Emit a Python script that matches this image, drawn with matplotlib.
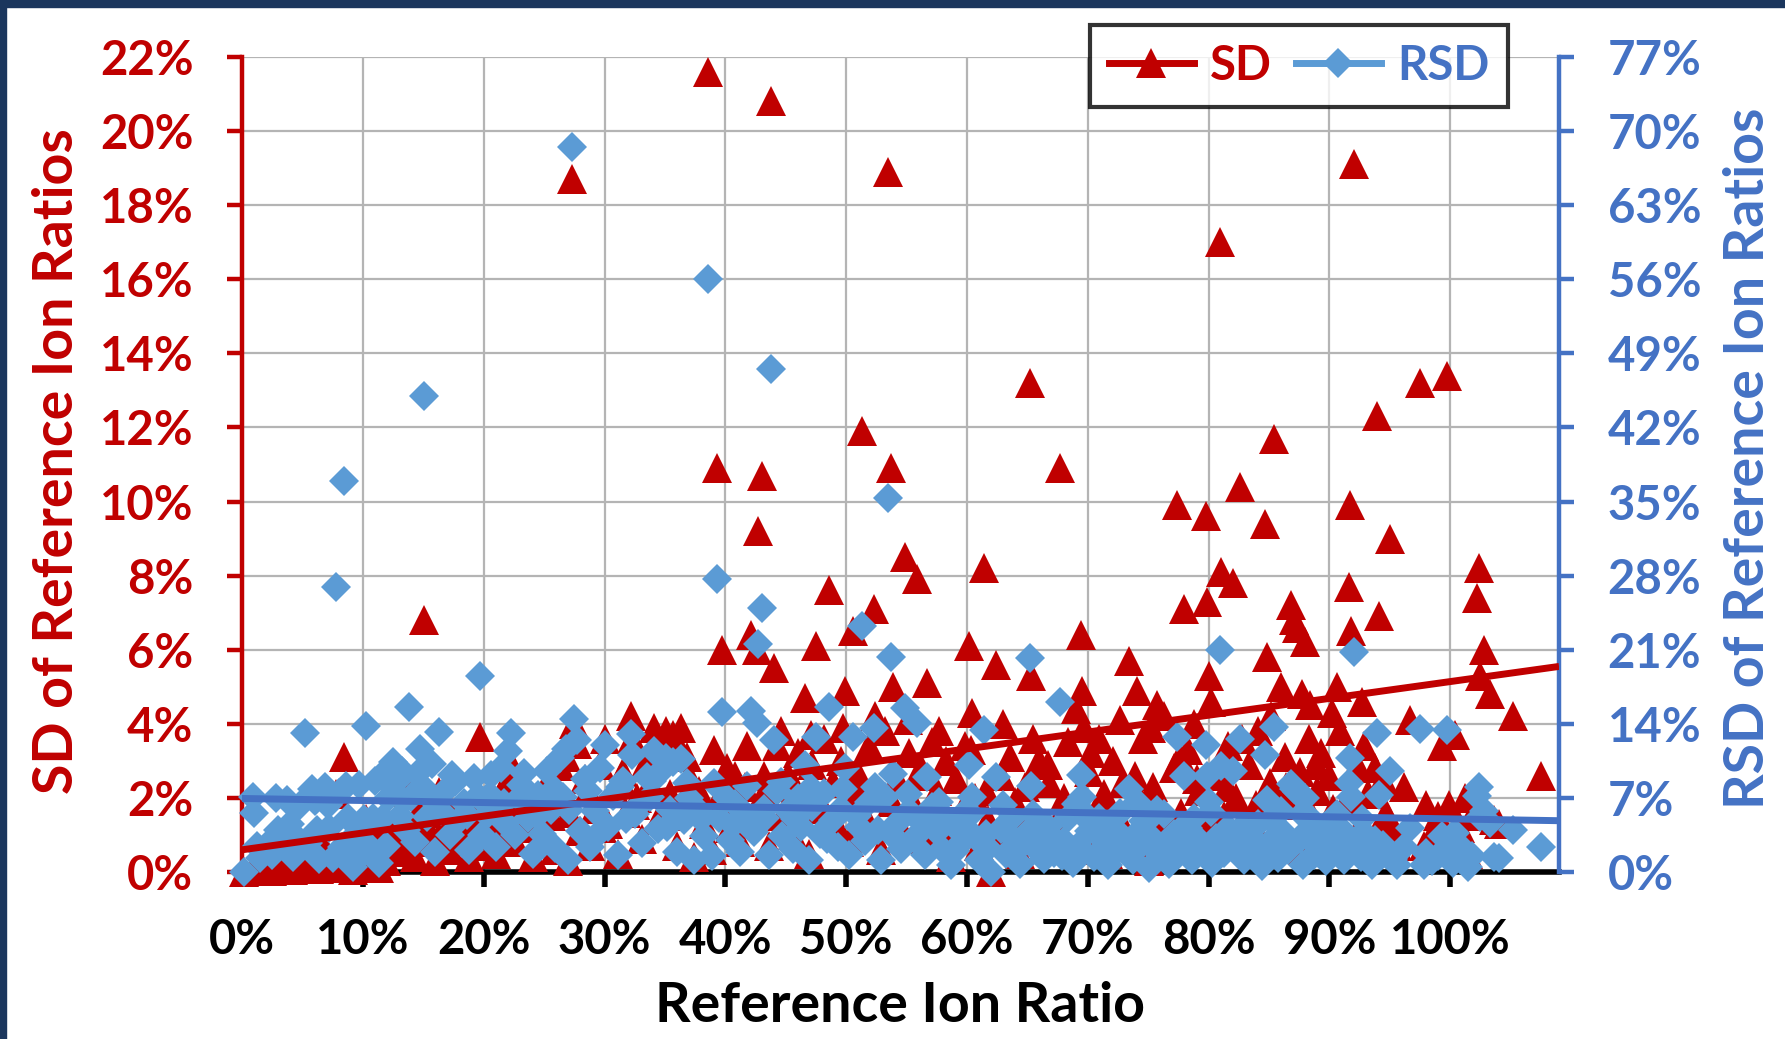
import matplotlib
matplotlib.use("Agg")
import matplotlib.pyplot as plt
from matplotlib.ticker import FuncFormatter, MultipleLocator
from matplotlib.patches import Rectangle
from matplotlib.lines import Line2D

# reference ion ratio (fraction), SD (%), RSD (%) per sample
ion_ratio = [
    0.002, 0.009, 0.010, 0.015, 0.020, 0.025, 0.030, 0.035, 0.040, 0.042, 0.048, 0.052,
    0.055, 0.060, 0.062, 0.066, 0.069, 0.072, 0.075, 0.078, 0.080, 0.083, 0.084, 0.088,
    0.092, 0.095, 0.098,
    0.101, 0.103, 0.106, 0.110, 0.113, 0.117, 0.121, 0.125, 0.128, 0.131, 0.134, 0.138,
    0.140, 0.143, 0.147, 0.149,
    0.151, 0.153, 0.157, 0.160, 0.163, 0.168, 0.172, 0.176, 0.180, 0.184, 0.188, 0.192,
    0.197, 0.199,
    0.203, 0.206, 0.210, 0.214, 0.217, 0.220, 0.223, 0.226, 0.229, 0.233, 0.237, 0.241,
    0.245, 0.248,
    0.252, 0.256, 0.259, 0.263, 0.266, 0.268, 0.270, 0.273, 0.275, 0.277, 0.280, 0.284,
    0.288, 0.292, 0.296, 0.300,
    0.303, 0.307, 0.311, 0.315, 0.318, 0.322, 0.323, 0.327, 0.331, 0.335, 0.338, 0.341,
    0.344, 0.347,
    0.351, 0.354, 0.357, 0.360, 0.363, 0.366, 0.370, 0.374, 0.378, 0.382, 0.386, 0.389,
    0.393, 0.395, 0.397,
    0.401, 0.404, 0.408, 0.412, 0.416, 0.421, 0.424, 0.426, 0.427, 0.430, 0.433, 0.436,
    0.438, 0.440, 0.443, 0.447,
    0.452, 0.456, 0.460, 0.463, 0.466, 0.469, 0.472, 0.475, 0.478, 0.482, 0.486, 0.489,
    0.493, 0.496, 0.499,
    0.502, 0.506, 0.509, 0.513, 0.516, 0.519, 0.523, 0.526, 0.529, 0.532, 0.535, 0.537,
    0.539, 0.542, 0.545, 0.549,
    0.552, 0.556, 0.559, 0.562, 0.565, 0.567, 0.571, 0.575, 0.579, 0.583, 0.587, 0.591,
    0.595, 0.598,
    0.602, 0.604, 0.607, 0.610, 0.614, 0.617, 0.620, 0.624, 0.628, 0.632, 0.636, 0.640,
    0.644, 0.648,
    0.652, 0.653, 0.656, 0.660, 0.664, 0.668, 0.672, 0.677, 0.680, 0.684, 0.688, 0.692,
    0.694, 0.695, 0.697,
    0.701, 0.705, 0.709, 0.713, 0.717, 0.721, 0.725, 0.729, 0.734, 0.737, 0.741, 0.744,
    0.746,
    0.751, 0.754, 0.757, 0.760, 0.763, 0.767, 0.771, 0.774, 0.777, 0.780, 0.783, 0.786,
    0.788, 0.792, 0.795, 0.798, 0.799,
    0.800, 0.803, 0.806, 0.809, 0.810, 0.813, 0.816, 0.820, 0.823, 0.826, 0.829, 0.833,
    0.837, 0.841, 0.844, 0.847, 0.848,
    0.851, 0.854, 0.857, 0.860, 0.863, 0.866, 0.868, 0.871, 0.873, 0.876, 0.878, 0.880,
    0.883, 0.884, 0.887, 0.890, 0.893, 0.897,
    0.900, 0.903, 0.906, 0.909, 0.912, 0.916, 0.917, 0.918, 0.920, 0.923, 0.926, 0.929,
    0.932, 0.935, 0.939, 0.941, 0.944, 0.947, 0.950,
    0.953, 0.956, 0.967, 0.975, 0.980, 0.985, 0.993, 0.997, 0.999,
    1.004, 1.008, 1.012, 1.018, 1.022, 1.024, 1.025, 1.028, 1.033, 1.036, 1.052, 1.075,
    # crowded lower band
    0.012, 0.028, 0.037, 0.045, 0.058, 0.064, 0.071, 0.086, 0.090, 0.097, 0.108, 0.115,
    0.119, 0.123, 0.132, 0.136, 0.145, 0.155, 0.165, 0.174, 0.186, 0.195,
    0.205, 0.218, 0.231, 0.244, 0.258, 0.271, 0.286, 0.298, 0.313, 0.325, 0.339, 0.352,
    0.368, 0.380, 0.391, 0.406, 0.418, 0.432, 0.446, 0.458, 0.471, 0.484, 0.497, 0.511,
    0.524, 0.538, 0.551, 0.563, 0.577, 0.590, 0.603, 0.616, 0.630, 0.642, 0.655, 0.667,
    0.679, 0.690, 0.703, 0.715, 0.727, 0.739, 0.752, 0.765, 0.776, 0.790, 0.802, 0.815,
    0.828, 0.839, 0.852, 0.864, 0.877, 0.889, 0.902, 0.914, 0.927, 0.938, 0.949, 0.962,
    0.978, 0.990, 1.002, 1.015, 1.040,
]

sd_pct = [
    0.00, 0.064, 0.056, 0.02, 0.05, 0.04, 0.12, 0.10, 0.18, 0.06, 0.30, 0.68,
    0.15, 0.40, 0.25, 0.50, 0.55, 0.30, 0.10, 2.10, 0.60, 0.20, 3.10, 0.45,
    0.05, 0.35, 0.15,
    0.50, 1.42, 0.25, 0.95, 0.10, 0.60, 0.85, 1.30, 1.10, 0.70, 0.90, 2.15,
    1.00, 0.40, 1.70, 1.20,
    6.80, 0.80, 1.60, 0.30, 2.15, 1.30, 0.60, 1.50, 0.90, 1.20, 0.40, 1.70,
    3.65, 0.70,
    1.10, 1.90, 0.50, 2.10, 1.40, 2.50, 2.92, 0.80, 1.60, 2.20, 1.20, 0.40,
    1.80, 0.90,
    2.40, 1.50, 0.60, 2.85, 1.90, 3.10, 0.30, 18.7, 4.00, 3.45, 1.10, 2.50,
    0.70, 1.70, 2.90, 3.60,
    1.30, 2.20, 0.50, 2.70, 1.60, 4.20, 3.60, 2.00, 0.90, 3.00, 2.40, 3.90,
    1.40, 3.30,
    3.80, 2.10, 3.70, 0.70, 3.90, 1.80, 2.60, 0.40, 2.20, 1.30, 21.6, 0.60,
    10.9, 2.00, 6.00,
    2.80, 1.20, 2.60, 0.80, 2.30, 6.40, 1.60, 6.00, 9.20, 10.7, 2.20, 0.70,
    20.8, 5.50, 3.40, 1.50,
    2.60, 1.00, 3.20, 2.00, 4.70, 0.50, 2.90, 6.10, 1.70, 3.60, 7.60, 2.40,
    1.20, 3.00, 4.90,
    0.80, 6.50, 2.70, 11.9, 1.50, 3.40, 7.10, 2.10, 0.60, 3.80, 18.9, 10.9,
    5.00, 2.50, 1.20, 8.50,
    3.20, 1.80, 7.90, 2.80, 0.90, 5.10, 3.50, 2.20, 1.30, 3.00, 0.40, 2.50,
    1.60, 3.40,
    6.10, 4.30, 2.00, 0.70, 8.20, 1.40, 0.00, 5.60, 2.60, 1.10, 3.10, 1.90,
    0.50, 2.30,
    13.2, 5.30, 1.50, 3.00, 0.80, 2.40, 1.20, 10.9, 2.00, 3.50, 0.60, 1.70,
    6.40, 4.90, 3.90,
    2.70, 1.00, 3.60, 2.10, 0.50, 3.00, 1.50, 2.40, 5.70, 0.80, 4.90, 1.90,
    3.60,
    0.30, 2.30, 4.50, 1.20, 4.20, 0.60, 2.80, 9.90, 1.60, 7.10, 3.30, 0.90,
    4.00, 2.20, 1.40, 9.60, 7.30,
    5.30, 0.70, 2.60, 17.0, 8.10, 1.50, 3.40, 7.80, 2.00, 10.4, 0.90, 2.90,
    1.30, 3.80, 0.50, 9.40, 5.80,
    2.40, 11.7, 1.10, 5.00, 3.10, 1.80, 7.20, 6.80, 6.60, 2.70, 0.60, 6.20,
    3.60, 4.50, 1.40, 2.20, 3.20, 0.90,
    2.60, 1.70, 5.00, 3.80, 1.00, 7.70, 9.90, 6.50, 19.1, 2.90, 1.30, 3.40,
    2.10, 0.70, 12.3, 6.90, 2.50, 1.60, 9.00,
    1.10, 0.70, 4.10, 13.2, 1.80, 1.00, 3.40, 13.4, 1.80,
    3.70, 1.20, 2.00, 1.50, 7.40, 8.20, 5.30, 6.00, 4.80, 1.40, 4.20, 2.60,
    # crowded lower band
    0.03, 0.20, 0.25, 0.15, 0.45, 0.08, 0.45, 0.70, 0.25, 0.80, 0.55, 1.05,
    0.30, 1.15, 1.25, 0.55, 1.35, 1.10, 0.95, 1.60, 1.00, 1.40,
    1.50, 1.00, 1.90, 1.30, 2.00, 1.60, 2.20, 1.20, 2.50, 1.80, 2.90, 1.50,
    3.10, 1.90, 3.30, 1.80, 3.40, 2.60, 3.80, 2.30, 3.70, 1.50, 3.90, 2.20,
    4.20, 1.90, 4.10, 2.60, 3.80, 1.20, 3.30, 2.20, 4.00, 1.40, 3.60, 2.90,
    1.00, 4.40, 3.20, 1.70, 4.10, 2.60, 3.90, 1.50, 3.10, 2.50, 4.60, 2.30,
    3.60, 1.80, 4.20, 2.30, 4.80, 2.90, 4.30, 1.90, 4.60, 2.80, 1.40, 2.30,
    0.70, 1.50, 0.90, 0.50, 1.30,
]

rsd_pct = [
    0.0, 7.1, 5.6, 1.3, 2.5, 1.6, 4.0, 2.9, 4.5, 1.4, 6.3, 13.1,
    2.7, 6.7, 4.0, 7.6, 8.0, 4.2, 1.3, 26.9, 7.5, 2.4, 36.9, 5.1,
    0.5, 3.7, 1.5,
    5.0, 13.8, 2.4, 8.6, 0.9, 5.1, 7.0, 10.4, 8.6, 5.3, 6.7, 15.6,
    7.1, 2.8, 11.6, 8.1,
    45.0, 5.2, 10.2, 1.9, 13.2, 7.7, 3.5, 8.5, 5.0, 6.5, 2.1, 8.9,
    18.5, 3.5,
    5.4, 9.2, 2.4, 9.8, 6.5, 11.4, 13.1, 3.5, 7.0, 9.4, 5.1, 1.7,
    7.3, 3.6,
    9.5, 5.9, 2.3, 10.8, 7.1, 11.6, 1.1, 68.5, 14.5, 12.5, 3.9, 8.8,
    2.4, 5.8, 9.8, 12.0,
    4.3, 7.2, 1.6, 8.6, 5.0, 13.0, 11.1, 6.1, 2.7, 9.0, 7.1, 11.4,
    4.1, 9.5,
    10.8, 5.9, 10.4, 1.9, 10.7, 4.9, 7.0, 1.1, 5.8, 3.4, 56.0, 1.5,
    27.7, 5.1, 15.1,
    7.0, 3.0, 6.4, 1.9, 5.5, 15.2, 3.8, 14.1, 21.5, 24.9, 5.1, 1.6,
    47.5, 12.5, 7.7, 3.4,
    5.8, 2.2, 7.0, 4.3, 10.1, 1.1, 6.1, 12.8, 3.6, 7.5, 15.6, 4.9,
    2.4, 6.0, 9.8,
    1.6, 12.8, 5.3, 23.2, 2.9, 6.6, 13.6, 4.0, 1.1, 7.1, 35.3, 20.3,
    9.3, 4.6, 2.2, 15.5,
    5.8, 3.2, 14.1, 5.0, 1.6, 9.0, 6.1, 3.8, 2.2, 5.1, 0.7, 4.2,
    2.7, 5.7,
    10.1, 7.1, 3.3, 1.1, 13.4, 2.3, 0.0, 9.0, 4.1, 1.7, 4.9, 3.0,
    0.8, 3.5,
    20.2, 8.1, 2.3, 4.5, 1.2, 3.6, 1.8, 16.1, 2.9, 5.1, 0.9, 2.5,
    9.2, 7.1, 5.6,
    3.9, 1.4, 5.1, 2.9, 0.7, 4.2, 2.1, 3.3, 7.8, 1.1, 6.6, 2.6,
    4.8,
    0.4, 3.1, 5.9, 1.6, 5.5, 0.8, 3.6, 12.8, 2.1, 9.1, 4.2, 1.1,
    5.1, 2.8, 1.8, 12.0, 9.1,
    6.6, 0.9, 3.2, 21.0, 10.0, 1.8, 4.2, 9.5, 2.4, 12.6, 1.1, 3.5,
    1.6, 4.5, 0.6, 11.1, 6.8,
    2.8, 13.7, 1.3, 5.8, 3.6, 2.1, 8.3, 7.8, 7.6, 3.1, 0.7, 7.0,
    4.1, 5.1, 1.6, 2.5, 3.6, 1.0,
    2.9, 1.9, 5.5, 4.2, 1.1, 8.4, 10.8, 7.1, 20.8, 3.1, 1.4, 3.7,
    2.3, 0.7, 13.1, 7.3, 2.6, 1.7, 9.5,
    1.2, 0.7, 4.2, 13.5, 1.8, 1.0, 3.4, 13.4, 1.8,
    3.7, 1.2, 2.0, 1.5, 7.2, 8.0, 5.2, 5.8, 4.6, 1.4, 4.0, 2.4,
    # crowded lower band
    2.5, 7.0, 6.8, 3.3, 7.8, 1.2, 6.3, 8.1, 2.8, 8.2, 5.1, 9.1,
    2.5, 9.3, 9.5, 4.0, 9.3, 7.1, 5.8, 9.2, 5.4, 7.2,
    7.3, 4.6, 8.2, 5.3, 7.8, 5.9, 7.7, 4.0, 8.0, 5.5, 8.6, 4.3,
    8.4, 5.0, 8.4, 4.4, 8.1, 6.0, 8.5, 5.0, 7.9, 3.1, 7.8, 4.3,
    8.0, 3.5, 7.4, 4.6, 6.6, 2.0, 5.5, 3.6, 6.3, 2.2, 5.5, 4.3,
    1.5, 6.4, 4.6, 2.4, 5.6, 3.5, 5.2, 2.0, 4.0, 3.2, 5.7, 2.8,
    4.3, 2.1, 4.9, 2.7, 5.5, 3.3, 4.8, 2.1, 5.0, 3.0, 1.5, 2.4,
    0.7, 1.5, 0.9, 0.5, 1.3,
]

# linear trend lines as shown in the chart (end points)
trend_x = [0.0, 1.09]
sd_trend = [0.60, 5.55]
rsd_trend = [6.95, 4.85]

RED = "#C00000"
BLUE_MK = "#5B9BD5"
BLUE = "#4472C4"
FONT = "Lato"

fig = plt.figure(figsize=(17.85, 10.39), dpi=100)
ax = fig.add_axes([0.1356, 0.1607, 0.7378, 0.7844])
ax2 = ax.twinx()

ax.set_xlim(0, 1.09)
ax.set_ylim(0, 22)
ax2.set_ylim(0, 77)

ax.grid(True, color="#B4B4B4", linewidth=1.6, zorder=0)
ax.set_axisbelow(True)
ax.xaxis.set_major_locator(MultipleLocator(0.1))
ax.yaxis.set_major_locator(MultipleLocator(2))
ax2.yaxis.set_major_locator(MultipleLocator(7))

ax.plot(ion_ratio, sd_pct, linestyle="none", marker="^", markersize=21.5,
        color=RED, markeredgewidth=0, clip_on=False, zorder=3)
ax2.plot(ion_ratio, rsd_pct, linestyle="none", marker="D", markersize=15.5,
         color=BLUE_MK, markeredgewidth=0, clip_on=False, zorder=3)

# trend lines on top of both marker sets
ax2.plot(trend_x, sd_trend, color=RED, linewidth=5, transform=ax.transData,
         zorder=5, solid_capstyle="butt")
ax2.plot(trend_x, rsd_trend, color=BLUE, linewidth=5, zorder=6,
         solid_capstyle="round")

pct = FuncFormatter(lambda v, _: f"{v:.0f}%")
ax.xaxis.set_major_formatter(FuncFormatter(lambda v, _: f"{v * 100:.0f}%"))
ax.yaxis.set_major_formatter(pct)
ax2.yaxis.set_major_formatter(pct)

for s in ["top", "right"]:
    ax.spines[s].set_visible(False)
for s in ["top", "left", "bottom"]:
    ax2.spines[s].set_visible(False)
ax.spines["left"].set_color(RED)
ax.spines["left"].set_linewidth(3.2)
ax.spines["bottom"].set_color("black")
ax.spines["bottom"].set_linewidth(4)
ax2.spines["right"].set_color(BLUE)
ax2.spines["right"].set_linewidth(3.2)

ax.tick_params(axis="y", direction="out", length=11, width=3.2, color=RED,
               labelcolor=RED, pad=24)
ax.tick_params(axis="x", direction="out", length=11, width=4, color="black",
               labelcolor="black", pad=22)
ax2.tick_params(axis="y", direction="out", length=11, width=3.2, color=BLUE,
                labelcolor=BLUE, pad=24)
for lab in ax.get_yticklabels() + ax.get_xticklabels() + ax2.get_yticklabels():
    lab.set_fontfamily(FONT)
    lab.set_fontweight("bold")
    lab.set_fontsize(34)

fig.text(0.032, 0.556, "SD of Reference Ion Ratios", rotation=90, color=RED,
         fontsize=40, fontweight="bold", family=FONT, ha="center", va="center")
fig.text(0.979, 0.559, "RSD of Reference Ion Ratios", rotation=90, color=BLUE,
         fontsize=40, fontweight="bold", family=FONT, ha="center", va="center")
fig.text(0.504, 0.032, "Reference Ion Ratio", color="black",
         fontsize=40, fontweight="bold", family=FONT, ha="center", va="center")

handles = [
    Line2D([], [], color=RED, linewidth=5, marker="^", markersize=21.5,
           markeredgewidth=0),
    Line2D([], [], color=BLUE_MK, linewidth=5, marker="D", markersize=15.5,
           markeredgewidth=0),
]
leg = ax2.legend(handles, ["SD", "RSD"], ncol=2, loc="upper right",
                 bbox_to_anchor=(0.845, 0.976), bbox_transform=fig.transFigure,
                 borderaxespad=0, frameon=True, fancybox=False, handlelength=1.8,
                 handletextpad=0.35, columnspacing=0.5, borderpad=0.4,
                 prop={"family": FONT, "weight": "bold", "size": 34})
leg.get_frame().set_edgecolor("black")
leg.get_frame().set_linewidth(3)
leg.set_zorder(10)
leg.get_texts()[0].set_color(RED)
leg.get_texts()[1].set_color(BLUE)

# dark frame visible along the top and left edges
fig.patches.append(Rectangle((0, 1 - 7 / 1039), 1, 7 / 1039, transform=fig.transFigure,
                             color="#1B365D", zorder=20))
fig.patches.append(Rectangle((0, 0), 6 / 1785, 1, transform=fig.transFigure,
                             color="#1B365D", zorder=20))

fig.savefig("out.png", dpi=100)
